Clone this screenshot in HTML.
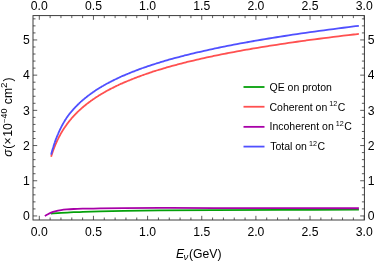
<!DOCTYPE html><html><head><meta charset="utf-8"><style>html,body{margin:0;padding:0;background:#fff}body{width:374px;height:261px;overflow:hidden;position:relative}</style></head><body><svg width="374" height="261" viewBox="0 0 374 261" style="position:absolute;left:0;top:0;will-change:transform;opacity:0.999;font-family:'Liberation Sans',sans-serif">
<rect width="374" height="261" fill="#fff"/>
<path d="M50.90 213.60 C52.60 213.47 57.30 213.03 61.10 212.80 C64.90 212.57 70.05 212.37 73.70 212.20 C77.35 212.03 78.62 211.95 83.00 211.80 C87.38 211.65 93.17 211.45 100.00 211.30 C106.83 211.15 114.00 211.05 124.00 210.90 C134.00 210.75 145.00 210.53 160.00 210.40 C175.00 210.27 194.00 210.20 214.00 210.10 C234.00 210.00 255.85 209.88 280.00 209.80 C304.15 209.73 345.75 209.68 358.90 209.65" fill="none" stroke="#04a00a" stroke-width="1.8" stroke-linejoin="round"/>
<path d="M51.13 156.71 C51.16 156.60 51.26 156.28 51.32 156.06 C51.39 155.84 51.46 155.63 51.52 155.41 C51.59 155.20 51.66 154.98 51.73 154.77 C51.80 154.55 51.87 154.34 51.94 154.12 C52.01 153.91 52.08 153.69 52.15 153.48 C52.22 153.26 52.29 153.05 52.36 152.83 C52.43 152.62 52.51 152.40 52.58 152.19 C52.65 151.97 52.73 151.76 52.80 151.55 C52.88 151.33 52.95 151.12 53.03 150.90 C53.10 150.69 53.18 150.47 53.26 150.26 C53.33 150.05 53.41 149.83 53.49 149.62 C53.57 149.41 53.65 149.19 53.73 148.98 C53.81 148.77 53.89 148.55 53.97 148.34 C54.05 148.13 54.13 147.91 54.21 147.70 C54.30 147.49 54.38 147.27 54.46 147.06 C54.55 146.85 54.63 146.63 54.72 146.42 C54.80 146.21 54.89 146.00 54.97 145.78 C55.06 145.57 55.15 145.36 55.23 145.15 C55.32 144.93 55.41 144.72 55.50 144.51 C55.59 144.30 55.68 144.09 55.77 143.87 C55.86 143.66 55.95 143.45 56.05 143.24 C56.14 143.03 56.23 142.81 56.33 142.60 C56.42 142.39 56.52 142.18 56.61 141.97 C56.71 141.76 56.80 141.54 56.90 141.33 C57.00 141.12 57.10 140.91 57.19 140.70 C57.29 140.49 57.39 140.28 57.49 140.07 C57.59 139.85 57.69 139.64 57.80 139.43 C57.90 139.22 58.00 139.01 58.11 138.80 C58.21 138.59 58.31 138.38 58.42 138.17 C58.53 137.96 58.63 137.75 58.74 137.54 C58.85 137.33 58.95 137.11 59.06 136.90 C59.17 136.69 59.28 136.48 59.39 136.27 C59.50 136.06 59.62 135.85 59.73 135.64 C59.84 135.43 59.96 135.22 60.07 135.01 C60.19 134.80 60.30 134.59 60.42 134.38 C60.53 134.17 60.65 133.96 60.77 133.75 C60.89 133.54 61.01 133.33 61.13 133.13 C61.25 132.92 61.37 132.71 61.49 132.50 C61.62 132.29 61.74 132.08 61.86 131.87 C61.99 131.66 62.11 131.45 62.24 131.24 C62.37 131.03 62.50 130.82 62.62 130.61 C62.75 130.40 62.88 130.20 63.01 129.99 C63.15 129.78 63.28 129.57 63.41 129.36 C63.54 129.15 63.68 128.94 63.81 128.73 C63.95 128.52 64.09 128.32 64.22 128.11 C64.36 127.90 64.50 127.69 64.64 127.48 C64.78 127.27 64.92 127.06 65.06 126.86 C65.20 126.65 65.35 126.44 65.49 126.23 C65.64 126.02 65.78 125.81 65.93 125.61 C66.08 125.40 66.23 125.19 66.38 124.98 C66.52 124.77 66.68 124.57 66.83 124.36 C66.98 124.15 67.13 123.94 67.29 123.73 C67.44 123.53 67.60 123.32 67.75 123.11 C67.91 122.90 68.07 122.70 68.23 122.49 C68.39 122.28 68.55 122.07 68.71 121.86 C68.88 121.66 69.04 121.45 69.20 121.24 C69.37 121.03 69.54 120.83 69.70 120.62 C69.87 120.41 70.04 120.20 70.21 120.00 C70.38 119.79 70.55 119.58 70.73 119.38 C70.90 119.17 71.08 118.96 71.25 118.75 C71.43 118.55 71.61 118.34 71.79 118.13 C71.97 117.93 72.15 117.72 72.33 117.51 C72.51 117.30 72.70 117.10 72.88 116.89 C73.07 116.68 73.25 116.48 73.44 116.27 C73.63 116.06 73.82 115.86 74.01 115.65 C74.20 115.44 74.40 115.24 74.59 115.03 C74.79 114.82 74.98 114.62 75.18 114.41 C75.38 114.20 75.58 114.00 75.78 113.79 C75.98 113.58 76.19 113.38 76.39 113.17 C76.60 112.97 76.80 112.76 77.01 112.55 C77.22 112.35 77.43 112.14 77.64 111.93 C77.85 111.73 78.07 111.52 78.28 111.32 C78.50 111.11 78.71 110.90 78.93 110.70 C79.15 110.49 79.37 110.28 79.59 110.08 C79.82 109.87 80.04 109.67 80.27 109.46 C80.49 109.25 80.72 109.05 80.95 108.84 C81.18 108.64 81.41 108.43 81.65 108.23 C81.88 108.02 82.12 107.81 82.35 107.61 C82.59 107.40 82.83 107.20 83.07 106.99 C83.32 106.79 83.56 106.58 83.80 106.37 C84.05 106.17 84.30 105.96 84.55 105.76 C84.80 105.55 85.05 105.35 85.30 105.14 C85.56 104.94 85.81 104.73 86.07 104.52 C86.33 104.32 86.59 104.11 86.85 103.91 C87.12 103.70 87.38 103.50 87.65 103.29 C87.92 103.09 88.18 102.88 88.46 102.68 C88.73 102.47 89.00 102.27 89.28 102.06 C89.55 101.86 89.83 101.65 90.11 101.45 C90.39 101.24 90.68 101.04 90.96 100.83 C91.25 100.63 91.53 100.42 91.82 100.22 C92.11 100.01 92.41 99.81 92.70 99.60 C93.00 99.40 93.29 99.19 93.59 98.99 C93.89 98.78 94.20 98.58 94.50 98.37 C94.80 98.17 95.11 97.96 95.42 97.76 C95.73 97.55 96.04 97.35 96.36 97.14 C96.67 96.94 96.99 96.73 97.31 96.53 C97.63 96.32 97.96 96.12 98.28 95.91 C98.61 95.71 98.94 95.50 99.27 95.30 C99.60 95.10 99.93 94.89 100.27 94.69 C100.61 94.48 100.94 94.28 101.29 94.07 C101.63 93.87 101.97 93.66 102.32 93.46 C102.67 93.26 103.02 93.05 103.38 92.85 C103.73 92.64 104.09 92.44 104.45 92.23 C104.81 92.03 105.17 91.82 105.53 91.62 C105.90 91.42 106.27 91.21 106.64 91.01 C107.01 90.80 107.39 90.60 107.76 90.40 C108.14 90.19 108.52 89.99 108.91 89.78 C109.29 89.58 109.68 89.37 110.07 89.17 C110.46 88.97 110.86 88.76 111.25 88.56 C111.65 88.35 112.05 88.15 112.46 87.95 C112.86 87.74 113.27 87.54 113.68 87.33 C114.09 87.13 114.50 86.93 114.92 86.72 C115.34 86.52 115.76 86.31 116.18 86.11 C116.61 85.91 117.04 85.70 117.47 85.50 C117.90 85.30 118.33 85.09 118.77 84.89 C119.21 84.68 119.65 84.48 120.10 84.28 C120.55 84.07 121.00 83.87 121.45 83.67 C121.90 83.46 122.36 83.26 122.82 83.05 C123.28 82.85 123.75 82.65 124.22 82.44 C124.69 82.24 125.16 82.04 125.64 81.83 C126.11 81.63 126.59 81.43 127.08 81.22 C127.56 81.02 128.05 80.81 128.54 80.61 C129.04 80.41 129.53 80.20 130.04 80.00 C130.54 79.80 131.04 79.59 131.55 79.39 C132.06 79.19 132.57 78.98 133.09 78.78 C133.61 78.58 134.13 78.37 134.66 78.17 C135.19 77.97 135.72 77.76 136.25 77.56 C136.79 77.36 137.33 77.15 137.87 76.95 C138.42 76.75 138.96 76.54 139.52 76.34 C140.07 76.14 140.63 75.93 141.19 75.73 C141.75 75.53 142.32 75.32 142.89 75.12 C143.47 74.92 144.04 74.72 144.62 74.51 C145.21 74.31 145.79 74.11 146.38 73.90 C146.98 73.70 147.57 73.50 148.17 73.29 C148.77 73.09 149.38 72.89 149.99 72.68 C150.60 72.48 151.22 72.28 151.84 72.08 C152.46 71.87 153.09 71.67 153.72 71.47 C154.35 71.26 154.99 71.06 155.63 70.86 C156.27 70.65 156.92 70.45 157.57 70.25 C158.23 70.05 158.89 69.84 159.55 69.64 C160.21 69.44 160.88 69.23 161.56 69.03 C162.23 68.83 162.91 68.63 163.60 68.42 C164.29 68.22 164.98 68.02 165.68 67.82 C166.38 67.61 167.08 67.41 167.79 67.21 C168.50 67.00 169.21 66.80 169.93 66.60 C170.66 66.40 171.38 66.19 172.12 65.99 C172.85 65.79 173.59 65.59 174.34 65.38 C175.08 65.18 175.83 64.98 176.59 64.78 C177.35 64.57 178.11 64.37 178.88 64.17 C179.66 63.97 180.43 63.76 181.22 63.56 C182.00 63.36 182.79 63.16 183.59 62.95 C184.38 62.75 185.19 62.55 186.00 62.35 C186.81 62.14 187.62 61.94 188.45 61.74 C189.27 61.54 190.10 61.33 190.94 61.13 C191.78 60.93 192.62 60.73 193.47 60.52 C194.32 60.32 195.18 60.12 196.05 59.92 C196.91 59.71 197.79 59.51 198.67 59.31 C199.55 59.11 200.43 58.91 201.33 58.70 C202.22 58.50 203.12 58.30 204.03 58.10 C204.94 57.89 205.86 57.69 206.79 57.49 C207.71 57.29 208.64 57.09 209.58 56.88 C210.52 56.68 211.47 56.48 212.43 56.28 C213.38 56.07 214.35 55.87 215.32 55.67 C216.29 55.47 217.27 55.27 218.26 55.06 C219.25 54.86 220.24 54.66 221.25 54.46 C222.25 54.26 223.27 54.05 224.29 53.85 C225.31 53.65 226.34 53.45 227.38 53.25 C228.42 53.04 229.46 52.84 230.52 52.64 C231.58 52.44 232.64 52.24 233.72 52.03 C234.79 51.83 235.87 51.63 236.96 51.43 C238.05 51.23 239.15 51.03 240.26 50.82 C241.37 50.62 242.49 50.42 243.62 50.22 C244.75 50.02 245.89 49.81 247.03 49.61 C248.18 49.41 249.34 49.21 250.50 49.01 C251.67 48.81 252.85 48.60 254.03 48.40 C255.22 48.20 256.41 48.00 257.62 47.80 C258.83 47.60 260.04 47.39 261.27 47.19 C262.49 46.99 263.73 46.79 264.97 46.59 C266.22 46.39 267.48 46.18 268.74 45.98 C270.01 45.78 271.29 45.58 272.58 45.38 C273.86 45.18 275.16 44.98 276.47 44.77 C277.78 44.57 279.10 44.37 280.43 44.17 C281.77 43.97 283.11 43.77 284.46 43.57 C285.82 43.36 287.18 43.16 288.56 42.96 C289.93 42.76 291.32 42.56 292.72 42.36 C294.12 42.16 295.53 41.95 296.95 41.75 C298.38 41.55 299.81 41.35 301.26 41.15 C302.71 40.95 304.16 40.75 305.63 40.55 C307.11 40.34 308.59 40.14 310.08 39.94 C311.58 39.74 313.09 39.54 314.61 39.34 C316.13 39.14 317.66 38.94 319.21 38.74 C320.75 38.53 322.31 38.33 323.88 38.13 C325.45 37.93 327.04 37.73 328.63 37.53 C330.23 37.33 331.84 37.13 333.47 36.93 C335.09 36.72 336.73 36.52 338.38 36.32 C340.03 36.12 341.70 35.92 343.38 35.72 C345.06 35.52 346.75 35.32 348.46 35.12 C350.16 34.92 351.89 34.72 353.62 34.51 C355.36 34.31 358.00 34.01 358.87 33.91" fill="none" stroke="#ff5050" stroke-width="1.8" stroke-linejoin="round"/>
<path d="M44.80 216.00 C45.33 215.70 46.95 214.77 48.00 214.20 C49.05 213.63 49.93 213.08 51.10 212.60 C52.27 212.12 53.33 211.73 55.00 211.30 C56.67 210.88 59.10 210.37 61.10 210.05 C63.10 209.73 64.90 209.58 67.00 209.40 C69.10 209.22 71.03 209.12 73.70 209.00 C76.37 208.88 78.62 208.82 83.00 208.70 C87.38 208.58 93.17 208.40 100.00 208.30 C106.83 208.20 114.00 208.17 124.00 208.10 C134.00 208.03 145.00 207.90 160.00 207.90 C175.00 207.90 180.85 208.04 214.00 208.10 C247.15 208.16 334.75 208.22 358.90 208.25" fill="none" stroke="#a800a8" stroke-width="1.8" stroke-linejoin="round"/>
<path d="M51.13 154.63 C51.16 154.50 51.26 154.12 51.32 153.86 C51.39 153.61 51.46 153.35 51.52 153.10 C51.59 152.84 51.66 152.59 51.73 152.34 C51.80 152.08 51.87 151.83 51.94 151.57 C52.01 151.32 52.08 151.07 52.15 150.81 C52.22 150.56 52.29 150.31 52.36 150.06 C52.43 149.81 52.51 149.55 52.58 149.30 C52.65 149.05 52.73 148.80 52.80 148.55 C52.88 148.30 52.95 148.05 53.03 147.80 C53.10 147.55 53.18 147.30 53.26 147.05 C53.33 146.80 53.41 146.55 53.49 146.30 C53.57 146.05 53.65 145.80 53.73 145.55 C53.81 145.30 53.89 145.05 53.97 144.81 C54.05 144.56 54.13 144.31 54.21 144.06 C54.30 143.82 54.38 143.57 54.46 143.32 C54.55 143.07 54.63 142.83 54.72 142.58 C54.80 142.33 54.89 142.09 54.97 141.84 C55.06 141.60 55.15 141.35 55.23 141.11 C55.32 140.86 55.41 140.61 55.50 140.37 C55.59 140.12 55.68 139.88 55.77 139.64 C55.86 139.39 55.95 139.15 56.05 138.90 C56.14 138.66 56.23 138.41 56.33 138.17 C56.42 137.93 56.52 137.68 56.61 137.44 C56.71 137.20 56.80 136.95 56.90 136.71 C57.00 136.47 57.10 136.23 57.19 135.98 C57.29 135.74 57.39 135.50 57.49 135.26 C57.59 135.01 57.69 134.77 57.80 134.53 C57.90 134.29 58.00 134.05 58.11 133.81 C58.21 133.57 58.31 133.32 58.42 133.08 C58.53 132.84 58.63 132.60 58.74 132.36 C58.85 132.12 58.95 131.88 59.06 131.64 C59.17 131.40 59.28 131.16 59.39 130.92 C59.50 130.68 59.62 130.44 59.73 130.20 C59.84 129.96 59.96 129.73 60.07 129.49 C60.19 129.25 60.30 129.01 60.42 128.77 C60.53 128.53 60.65 128.29 60.77 128.06 C60.89 127.82 61.01 127.58 61.13 127.34 C61.25 127.10 61.37 126.87 61.49 126.63 C61.62 126.39 61.74 126.15 61.86 125.92 C61.99 125.68 62.11 125.44 62.24 125.21 C62.37 124.97 62.50 124.73 62.62 124.50 C62.75 124.26 62.88 124.03 63.01 123.79 C63.15 123.55 63.28 123.32 63.41 123.08 C63.54 122.85 63.68 122.61 63.81 122.38 C63.95 122.14 64.09 121.91 64.22 121.68 C64.36 121.44 64.50 121.21 64.64 120.98 C64.78 120.74 64.92 120.51 65.06 120.28 C65.20 120.04 65.35 119.81 65.49 119.58 C65.64 119.35 65.78 119.12 65.93 118.89 C66.08 118.66 66.23 118.43 66.38 118.20 C66.52 117.97 66.68 117.74 66.83 117.52 C66.98 117.29 67.13 117.08 67.29 116.86 C67.44 116.65 67.60 116.43 67.75 116.22 C67.91 116.01 68.07 115.79 68.23 115.58 C68.39 115.37 68.55 115.15 68.71 114.94 C68.88 114.73 69.04 114.51 69.20 114.30 C69.37 114.09 69.54 113.87 69.70 113.66 C69.87 113.45 70.04 113.24 70.21 113.02 C70.38 112.81 70.55 112.60 70.73 112.39 C70.90 112.18 71.08 111.96 71.25 111.75 C71.43 111.54 71.61 111.33 71.79 111.12 C71.97 110.91 72.15 110.69 72.33 110.48 C72.51 110.27 72.70 110.06 72.88 109.85 C73.07 109.64 73.25 109.43 73.44 109.22 C73.63 109.01 73.82 108.80 74.01 108.59 C74.20 108.38 74.40 108.17 74.59 107.96 C74.79 107.75 74.98 107.54 75.18 107.33 C75.38 107.12 75.58 106.91 75.78 106.70 C75.98 106.49 76.19 106.28 76.39 106.07 C76.60 105.86 76.80 105.65 77.01 105.44 C77.22 105.23 77.43 105.03 77.64 104.82 C77.85 104.61 78.07 104.40 78.28 104.19 C78.50 103.98 78.71 103.77 78.93 103.57 C79.15 103.36 79.37 103.15 79.59 102.94 C79.82 102.73 80.04 102.53 80.27 102.32 C80.49 102.11 80.72 101.90 80.95 101.69 C81.18 101.49 81.41 101.28 81.65 101.07 C81.88 100.86 82.12 100.66 82.35 100.45 C82.59 100.24 82.83 100.03 83.07 99.83 C83.32 99.62 83.56 99.41 83.80 99.21 C84.05 99.00 84.30 98.79 84.55 98.59 C84.80 98.38 85.05 98.17 85.30 97.97 C85.56 97.76 85.81 97.55 86.07 97.35 C86.33 97.14 86.59 96.93 86.85 96.73 C87.12 96.52 87.38 96.32 87.65 96.11 C87.92 95.90 88.18 95.70 88.46 95.49 C88.73 95.29 89.00 95.08 89.28 94.88 C89.55 94.67 89.83 94.46 90.11 94.26 C90.39 94.05 90.68 93.85 90.96 93.64 C91.25 93.44 91.53 93.23 91.82 93.03 C92.11 92.82 92.41 92.62 92.70 92.41 C93.00 92.21 93.29 92.00 93.59 91.80 C93.89 91.59 94.20 91.39 94.50 91.18 C94.80 90.98 95.11 90.77 95.42 90.57 C95.73 90.36 96.04 90.16 96.36 89.95 C96.67 89.75 96.99 89.54 97.31 89.34 C97.63 89.14 97.96 88.93 98.28 88.73 C98.61 88.52 98.94 88.32 99.27 88.11 C99.60 87.91 99.93 87.71 100.27 87.50 C100.61 87.30 100.94 87.09 101.29 86.89 C101.63 86.68 101.97 86.48 102.32 86.28 C102.67 86.07 103.02 85.87 103.38 85.67 C103.73 85.46 104.09 85.26 104.45 85.05 C104.81 84.85 105.17 84.65 105.53 84.44 C105.90 84.24 106.27 84.04 106.64 83.83 C107.01 83.63 107.39 83.42 107.76 83.22 C108.14 83.02 108.52 82.81 108.91 82.61 C109.29 82.41 109.68 82.20 110.07 82.00 C110.46 81.80 110.86 81.59 111.25 81.39 C111.65 81.19 112.05 80.98 112.46 80.78 C112.86 80.58 113.27 80.37 113.68 80.17 C114.09 79.97 114.50 79.76 114.92 79.56 C115.34 79.36 115.76 79.16 116.18 78.95 C116.61 78.75 117.04 78.55 117.47 78.34 C117.90 78.14 118.33 77.94 118.77 77.73 C119.21 77.53 119.65 77.33 120.10 77.13 C120.55 76.92 121.00 76.72 121.45 76.52 C121.90 76.31 122.36 76.11 122.82 75.91 C123.28 75.70 123.75 75.50 124.22 75.30 C124.69 75.10 125.16 74.89 125.64 74.69 C126.11 74.49 126.59 74.28 127.08 74.08 C127.56 73.88 128.05 73.68 128.54 73.47 C129.04 73.27 129.53 73.07 130.04 72.86 C130.54 72.66 131.04 72.46 131.55 72.26 C132.06 72.05 132.57 71.85 133.09 71.65 C133.61 71.45 134.13 71.24 134.66 71.04 C135.19 70.84 135.72 70.63 136.25 70.43 C136.79 70.23 137.33 70.03 137.87 69.82 C138.42 69.62 138.96 69.42 139.52 69.21 C140.07 69.01 140.63 68.81 141.19 68.61 C141.75 68.40 142.32 68.20 142.89 68.00 C143.47 67.79 144.04 67.59 144.62 67.39 C145.21 67.19 145.79 66.98 146.38 66.78 C146.98 66.58 147.57 66.37 148.17 66.17 C148.77 65.97 149.38 65.77 149.99 65.56 C150.60 65.36 151.22 65.16 151.84 64.95 C152.46 64.75 153.09 64.55 153.72 64.34 C154.35 64.14 154.99 63.94 155.63 63.74 C156.27 63.53 156.92 63.33 157.57 63.13 C158.23 62.92 158.89 62.72 159.55 62.52 C160.21 62.31 160.88 62.11 161.56 61.91 C162.23 61.70 162.91 61.50 163.60 61.30 C164.29 61.09 164.98 60.89 165.68 60.69 C166.38 60.48 167.08 60.28 167.79 60.08 C168.50 59.87 169.21 59.67 169.93 59.47 C170.66 59.26 171.38 59.06 172.12 58.86 C172.85 58.65 173.59 58.45 174.34 58.24 C175.08 58.04 175.83 57.84 176.59 57.63 C177.35 57.43 178.11 57.23 178.88 57.02 C179.66 56.82 180.43 56.61 181.22 56.41 C182.00 56.21 182.79 56.00 183.59 55.80 C184.38 55.59 185.19 55.39 186.00 55.19 C186.81 54.98 187.62 54.78 188.45 54.57 C189.27 54.37 190.10 54.16 190.94 53.96 C191.78 53.76 192.62 53.55 193.47 53.35 C194.32 53.14 195.18 52.94 196.05 52.73 C196.91 52.53 197.79 52.32 198.67 52.12 C199.55 51.91 200.43 51.71 201.33 51.51 C202.22 51.30 203.12 51.10 204.03 50.89 C204.94 50.69 205.86 50.48 206.79 50.28 C207.71 50.07 208.64 49.87 209.58 49.66 C210.52 49.45 211.47 49.25 212.43 49.04 C213.38 48.84 214.35 48.63 215.32 48.43 C216.29 48.22 217.27 48.02 218.26 47.81 C219.25 47.60 220.24 47.40 221.25 47.19 C222.25 46.99 223.27 46.78 224.29 46.58 C225.31 46.37 226.34 46.16 227.38 45.96 C228.42 45.75 229.46 45.54 230.52 45.34 C231.58 45.13 232.64 44.93 233.72 44.72 C234.79 44.51 235.87 44.31 236.96 44.10 C238.05 43.89 239.15 43.69 240.26 43.48 C241.37 43.27 242.49 43.06 243.62 42.86 C244.75 42.65 245.89 42.44 247.03 42.24 C248.18 42.03 249.34 41.82 250.50 41.61 C251.67 41.41 252.85 41.20 254.03 40.99 C255.22 40.78 256.41 40.58 257.62 40.37 C258.83 40.16 260.04 39.95 261.27 39.74 C262.49 39.54 263.73 39.33 264.97 39.12 C266.22 38.91 267.48 38.70 268.74 38.49 C270.01 38.29 271.29 38.08 272.58 37.87 C273.86 37.66 275.16 37.45 276.47 37.24 C277.78 37.03 279.10 36.82 280.43 36.61 C281.77 36.40 283.11 36.19 284.46 35.99 C285.82 35.78 287.18 35.57 288.56 35.36 C289.93 35.15 291.32 34.94 292.72 34.73 C294.12 34.52 295.53 34.31 296.95 34.10 C298.38 33.89 299.81 33.68 301.26 33.46 C302.71 33.25 304.16 33.04 305.63 32.83 C307.11 32.62 308.59 32.41 310.08 32.20 C311.58 31.99 313.09 31.78 314.61 31.57 C316.13 31.35 317.66 31.14 319.21 30.93 C320.75 30.72 322.31 30.51 323.88 30.30 C325.45 30.08 327.04 29.87 328.63 29.66 C330.23 29.45 331.84 29.23 333.47 29.02 C335.09 28.81 336.73 28.60 338.38 28.38 C340.03 28.17 341.70 27.96 343.38 27.74 C345.06 27.53 346.75 27.32 348.46 27.10 C350.16 26.89 351.89 26.68 353.62 26.46 C355.36 26.25 358.00 25.93 358.87 25.82" fill="none" stroke="#5050ff" stroke-width="1.8" stroke-linejoin="round"/>
<rect x="33.00" y="15.60" width="331.40" height="204.40" fill="none" stroke="#333" stroke-width="0.95"/>
<path d="M39.30 220.00 v-4.20 M39.30 15.60 v4.20 M50.13 220.00 v-2.50 M50.13 15.60 v2.50 M60.96 220.00 v-2.50 M60.96 15.60 v2.50 M71.79 220.00 v-2.50 M71.79 15.60 v2.50 M82.62 220.00 v-2.50 M82.62 15.60 v2.50 M93.45 220.00 v-4.20 M93.45 15.60 v4.20 M104.28 220.00 v-2.50 M104.28 15.60 v2.50 M115.11 220.00 v-2.50 M115.11 15.60 v2.50 M125.94 220.00 v-2.50 M125.94 15.60 v2.50 M136.77 220.00 v-2.50 M136.77 15.60 v2.50 M147.60 220.00 v-4.20 M147.60 15.60 v4.20 M158.43 220.00 v-2.50 M158.43 15.60 v2.50 M169.26 220.00 v-2.50 M169.26 15.60 v2.50 M180.09 220.00 v-2.50 M180.09 15.60 v2.50 M190.92 220.00 v-2.50 M190.92 15.60 v2.50 M201.75 220.00 v-4.20 M201.75 15.60 v4.20 M212.58 220.00 v-2.50 M212.58 15.60 v2.50 M223.41 220.00 v-2.50 M223.41 15.60 v2.50 M234.24 220.00 v-2.50 M234.24 15.60 v2.50 M245.07 220.00 v-2.50 M245.07 15.60 v2.50 M255.90 220.00 v-4.20 M255.90 15.60 v4.20 M266.73 220.00 v-2.50 M266.73 15.60 v2.50 M277.56 220.00 v-2.50 M277.56 15.60 v2.50 M288.39 220.00 v-2.50 M288.39 15.60 v2.50 M299.22 220.00 v-2.50 M299.22 15.60 v2.50 M310.05 220.00 v-4.20 M310.05 15.60 v4.20 M320.88 220.00 v-2.50 M320.88 15.60 v2.50 M331.71 220.00 v-2.50 M331.71 15.60 v2.50 M342.54 220.00 v-2.50 M342.54 15.60 v2.50 M353.37 220.00 v-2.50 M353.37 15.60 v2.50 M364.20 220.00 v-4.20 M364.20 15.60 v4.20 M33.00 215.95 h4.20 M364.40 215.95 h-4.20 M33.00 208.91 h2.50 M364.40 208.91 h-2.50 M33.00 201.87 h2.50 M364.40 201.87 h-2.50 M33.00 194.83 h2.50 M364.40 194.83 h-2.50 M33.00 187.79 h2.50 M364.40 187.79 h-2.50 M33.00 180.75 h4.20 M364.40 180.75 h-4.20 M33.00 173.71 h2.50 M364.40 173.71 h-2.50 M33.00 166.67 h2.50 M364.40 166.67 h-2.50 M33.00 159.63 h2.50 M364.40 159.63 h-2.50 M33.00 152.59 h2.50 M364.40 152.59 h-2.50 M33.00 145.55 h4.20 M364.40 145.55 h-4.20 M33.00 138.51 h2.50 M364.40 138.51 h-2.50 M33.00 131.47 h2.50 M364.40 131.47 h-2.50 M33.00 124.43 h2.50 M364.40 124.43 h-2.50 M33.00 117.39 h2.50 M364.40 117.39 h-2.50 M33.00 110.35 h4.20 M364.40 110.35 h-4.20 M33.00 103.31 h2.50 M364.40 103.31 h-2.50 M33.00 96.27 h2.50 M364.40 96.27 h-2.50 M33.00 89.23 h2.50 M364.40 89.23 h-2.50 M33.00 82.19 h2.50 M364.40 82.19 h-2.50 M33.00 75.15 h4.20 M364.40 75.15 h-4.20 M33.00 68.11 h2.50 M364.40 68.11 h-2.50 M33.00 61.07 h2.50 M364.40 61.07 h-2.50 M33.00 54.03 h2.50 M364.40 54.03 h-2.50 M33.00 46.99 h2.50 M364.40 46.99 h-2.50 M33.00 39.95 h4.20 M364.40 39.95 h-4.20 M33.00 32.91 h2.50 M364.40 32.91 h-2.50 M33.00 25.87 h2.50 M364.40 25.87 h-2.50 M33.00 18.83 h2.50 M364.40 18.83 h-2.50" stroke="#333" stroke-width="0.8" fill="none"/>
<text x="39.30" y="9.5" font-size="12.2" text-anchor="middle" fill="#000">0.0</text>
<text x="39.30" y="235.6" font-size="12.2" text-anchor="middle" fill="#000">0.0</text>
<text x="93.45" y="9.5" font-size="12.2" text-anchor="middle" fill="#000">0.5</text>
<text x="93.45" y="235.6" font-size="12.2" text-anchor="middle" fill="#000">0.5</text>
<text x="147.60" y="9.5" font-size="12.2" text-anchor="middle" fill="#000">1.0</text>
<text x="147.60" y="235.6" font-size="12.2" text-anchor="middle" fill="#000">1.0</text>
<text x="201.75" y="9.5" font-size="12.2" text-anchor="middle" fill="#000">1.5</text>
<text x="201.75" y="235.6" font-size="12.2" text-anchor="middle" fill="#000">1.5</text>
<text x="255.90" y="9.5" font-size="12.2" text-anchor="middle" fill="#000">2.0</text>
<text x="255.90" y="235.6" font-size="12.2" text-anchor="middle" fill="#000">2.0</text>
<text x="310.05" y="9.5" font-size="12.2" text-anchor="middle" fill="#000">2.5</text>
<text x="310.05" y="235.6" font-size="12.2" text-anchor="middle" fill="#000">2.5</text>
<text x="364.20" y="9.5" font-size="12.2" text-anchor="middle" fill="#000">3.0</text>
<text x="364.20" y="235.6" font-size="12.2" text-anchor="middle" fill="#000">3.0</text>
<text x="29.8" y="220.15" font-size="12.2" text-anchor="end" fill="#000">0</text>
<text x="367.8" y="220.15" font-size="12.2" text-anchor="start" fill="#000">0</text>
<text x="29.8" y="184.95" font-size="12.2" text-anchor="end" fill="#000">1</text>
<text x="367.8" y="184.95" font-size="12.2" text-anchor="start" fill="#000">1</text>
<text x="29.8" y="149.75" font-size="12.2" text-anchor="end" fill="#000">2</text>
<text x="367.8" y="149.75" font-size="12.2" text-anchor="start" fill="#000">2</text>
<text x="29.8" y="114.55" font-size="12.2" text-anchor="end" fill="#000">3</text>
<text x="367.8" y="114.55" font-size="12.2" text-anchor="start" fill="#000">3</text>
<text x="29.8" y="79.35" font-size="12.2" text-anchor="end" fill="#000">4</text>
<text x="367.8" y="79.35" font-size="12.2" text-anchor="start" fill="#000">4</text>
<text x="29.8" y="44.15" font-size="12.2" text-anchor="end" fill="#000">5</text>
<text x="367.8" y="44.15" font-size="12.2" text-anchor="start" fill="#000">5</text>
<text x="176" y="258" font-size="12.2" fill="#000"><tspan font-style="italic">E</tspan><tspan font-style="italic" font-size="9.6" dy="2.2" dx="-0.6">ν</tspan><tspan dy="-2.2" dx="0.7">(GeV)</tspan></text>
<text transform="translate(11.6,156.8) rotate(-90)" font-size="12.2" fill="#000"><tspan font-style="italic">σ</tspan><tspan dx="0.8">(×</tspan><tspan dx="0.6">1</tspan><tspan dx="0.1">0</tspan><tspan font-size="7.5" dy="-4.5" dx="0.2">−</tspan><tspan font-size="9" dx="0.2">40</tspan><tspan dy="4.5" dx="0.8"> cm</tspan><tspan font-size="9.8" dy="-4.5">2</tspan><tspan dy="4.5" dx="1.0">)</tspan></text>
<path d="M243.5 87.00 H264.5" stroke="#04a00a" stroke-width="1.8"/>
<text x="269.5" y="90.80" font-size="10.5" fill="#000">QE on proton</text>
<path d="M243.5 106.75 H264.5" stroke="#ff5050" stroke-width="1.8"/>
<text x="269.50" y="110.55" font-size="10.5" fill="#000">Coherent on <tspan font-size="7.2" dy="-4.2" dx="-0.9">12</tspan><tspan dy="4.2" dx="0.45">C</tspan></text>
<path d="M243.5 126.85 H264.5" stroke="#a800a8" stroke-width="1.8"/>
<text x="269.50" y="130.30" font-size="10.5" fill="#000">Incoherent on <tspan font-size="7.2" dy="-4.2" dx="-0.9">12</tspan><tspan dy="4.2" dx="0.45">C</tspan></text>
<path d="M243.5 146.60 H264.5" stroke="#5050ff" stroke-width="1.8"/>
<text x="270.20" y="150.05" font-size="10.5" fill="#000">Total on <tspan font-size="7.2" dy="-4.2" dx="-0.9">12</tspan><tspan dy="4.2" dx="0.45">C</tspan></text>
</svg></body></html>
